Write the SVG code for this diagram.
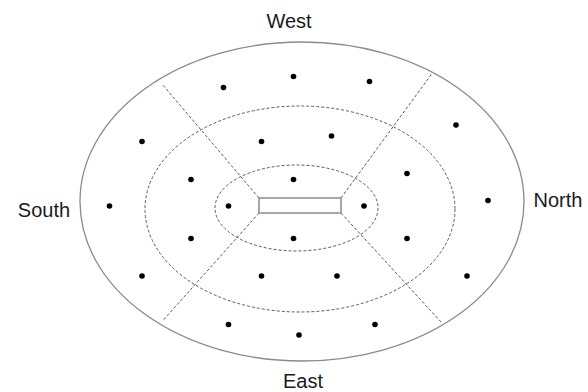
<svg xmlns="http://www.w3.org/2000/svg" width="588" height="392" viewBox="0 0 588 392">
<style>
.outer{fill:none;stroke:#8a8a8a;stroke-width:1.3}
.ring{fill:none;stroke:#5a5a5a;stroke-width:1;stroke-dasharray:3 2}
.div{stroke:#5a5a5a;stroke-width:1;stroke-dasharray:3 2}
.dot{fill:#000}
.lbl{font-family:"Liberation Sans",Arial,sans-serif;font-size:20px;fill:#1a1a1a;text-anchor:middle}
</style>
<rect width="588" height="392" fill="#fff"/>
<g id="field">
<ellipse class="outer" cx="302" cy="201.5" rx="222" ry="159.5"/>
<ellipse class="ring" cx="300" cy="209" rx="155" ry="103"/>
<ellipse class="ring" cx="296.5" cy="208" rx="81.5" ry="43"/>
</g>
<g id="connectors">
<line class="div" x1="259" y1="198" x2="162" y2="84"/>
<line class="div" x1="341" y1="198" x2="432" y2="73.5"/>
<line class="div" x1="259" y1="213" x2="162.5" y2="321"/>
<line class="div" x1="341" y1="213" x2="442" y2="323"/>
</g>
<g id="center">
<rect x="259" y="198" width="82" height="15" fill="#fff" stroke="#8a8a8a" stroke-width="1.5"/>
</g>
<g id="dots">
<circle class="dot" cx="223.5" cy="87.5" r="2.8"/>
<circle class="dot" cx="293.5" cy="76.5" r="2.8"/>
<circle class="dot" cx="369.5" cy="81.5" r="2.8"/>
<circle class="dot" cx="456" cy="125" r="2.8"/>
<circle class="dot" cx="142" cy="141.5" r="2.8"/>
<circle class="dot" cx="261.5" cy="141.5" r="2.8"/>
<circle class="dot" cx="331.5" cy="136" r="2.8"/>
<circle class="dot" cx="191" cy="179.5" r="2.8"/>
<circle class="dot" cx="293.5" cy="179.5" r="2.8"/>
<circle class="dot" cx="407" cy="173.5" r="2.8"/>
<circle class="dot" cx="109.5" cy="206" r="2.8"/>
<circle class="dot" cx="228.5" cy="206" r="2.8"/>
<circle class="dot" cx="364" cy="206" r="2.8"/>
<circle class="dot" cx="488" cy="200.5" r="2.8"/>
<circle class="dot" cx="191" cy="238.5" r="2.8"/>
<circle class="dot" cx="293.5" cy="238.5" r="2.8"/>
<circle class="dot" cx="407" cy="238.5" r="2.8"/>
<circle class="dot" cx="142" cy="276" r="2.8"/>
<circle class="dot" cx="261.5" cy="276" r="2.8"/>
<circle class="dot" cx="337" cy="276" r="2.8"/>
<circle class="dot" cx="467" cy="276" r="2.8"/>
<circle class="dot" cx="228.5" cy="324.5" r="2.8"/>
<circle class="dot" cx="299" cy="335" r="2.8"/>
<circle class="dot" cx="375" cy="324.5" r="2.8"/>
</g>
<g id="labels">
<text id="west" class="lbl" x="289" y="28">West</text>
<text id="south" class="lbl" x="44" y="217">South</text>
<text id="north" class="lbl" x="558" y="206.5">North</text>
<text id="east" class="lbl" x="303" y="387.5">East</text>
</g>
</svg>
